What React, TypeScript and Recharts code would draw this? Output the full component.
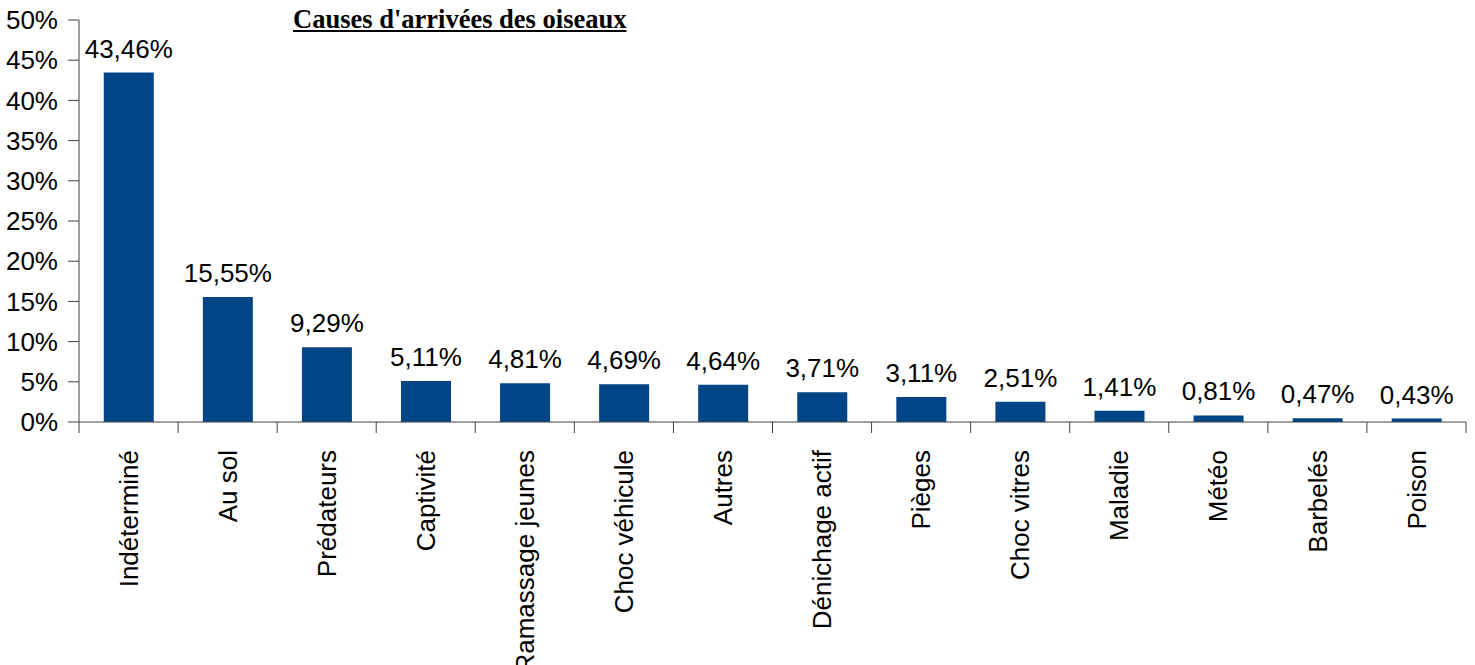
import React from "react";
import { BarChart, Bar, XAxis, YAxis, LabelList } from "recharts";

const categories = [
  "Indéterminé",
  "Au sol",
  "Prédateurs",
  "Captivité",
  "Ramassage jeunes",
  "Choc véhicule",
  "Autres",
  "Dénichage actif",
  "Pièges",
  "Choc vitres",
  "Maladie",
  "Météo",
  "Barbelés",
  "Poison",
];
const values = [43.46, 15.55, 9.29, 5.11, 4.81, 4.69, 4.64, 3.71, 3.11, 2.51, 1.41, 0.81, 0.47, 0.43];
const yTicks = [0, 5, 10, 15, 20, 25, 30, 35, 40, 45, 50];
const title = "Causes d'arrivées des oiseaux";

const data = categories.map((c, i) => ({ name: c, value: values[i] }));

const FONT = "'Liberation Sans', Arial, sans-serif";
const AXIS = "#404040";
const FS = 26;

const XTick = (props: any) => {
  const { x, y, payload, index } = props;
  const half = payload && payload.offset ? payload.offset : 49.5;
  const last = index === categories.length - 1;
  return (
    <g>
      <line x1={x - half} y1={y} x2={x - half} y2={y + 11} stroke={AXIS} strokeWidth={1} />
      {last && <line x1={x + half} y1={y} x2={x + half} y2={y + 11} stroke={AXIS} strokeWidth={1} />}
      <text
        transform={`translate(${x},${y + 28}) rotate(-90)`}
        textAnchor="end"
        dy="0.35em"
        fontSize={FS}
        fontFamily={FONT}
        fill="#000"
      >
        {payload.value}
      </text>
    </g>
  );
};

export default function App() {
  return (
    <div style={{ position: "absolute", left: 0, top: 0, width: 1475, height: 665, background: "#fff", overflow: "hidden" }}>
      <BarChart
        width={1475}
        height={665}
        data={data}
        margin={{ top: 20, right: 9, left: 0, bottom: 0 }}
        barCategoryGap="25%"
      >
        <XAxis
          dataKey="name"
          height={243}
          interval={0}
          tickLine={false}
          tickSize={0}
          tickMargin={0}
          axisLine={{ stroke: AXIS }}
          tick={<XTick />}
        />
        <YAxis
          width={79}
          domain={[0, 50]}
          ticks={yTicks}
          interval={0}
          tickFormatter={(v: number) => `${v}%`}
          tickSize={11}
          tickMargin={10}
          axisLine={{ stroke: AXIS }}
          tickLine={{ stroke: AXIS }}
          tick={{ fontSize: FS, fontFamily: FONT, fill: "#000" }}
        />
        <Bar dataKey="value" fill="#004586" isAnimationActive={false}>
          <LabelList
            dataKey="value"
            position="top"
            offset={15}
            formatter={(v: any) => `${Number(v).toFixed(2).replace(".", ",")}%`}
            style={{ fontSize: FS, fontFamily: FONT, fill: "#000" }}
          />
        </Bar>
      </BarChart>
      <div
        style={{
          position: "absolute",
          left: 293,
          top: 3,
          fontFamily: "'Liberation Serif', 'Times New Roman', serif",
          fontWeight: "bold",
          fontSize: 26.5,
          textDecoration: "underline",
          color: "#000",
          whiteSpace: "nowrap",
          lineHeight: "32px",
        }}
      >
        {title}
      </div>
    </div>
  );
}
